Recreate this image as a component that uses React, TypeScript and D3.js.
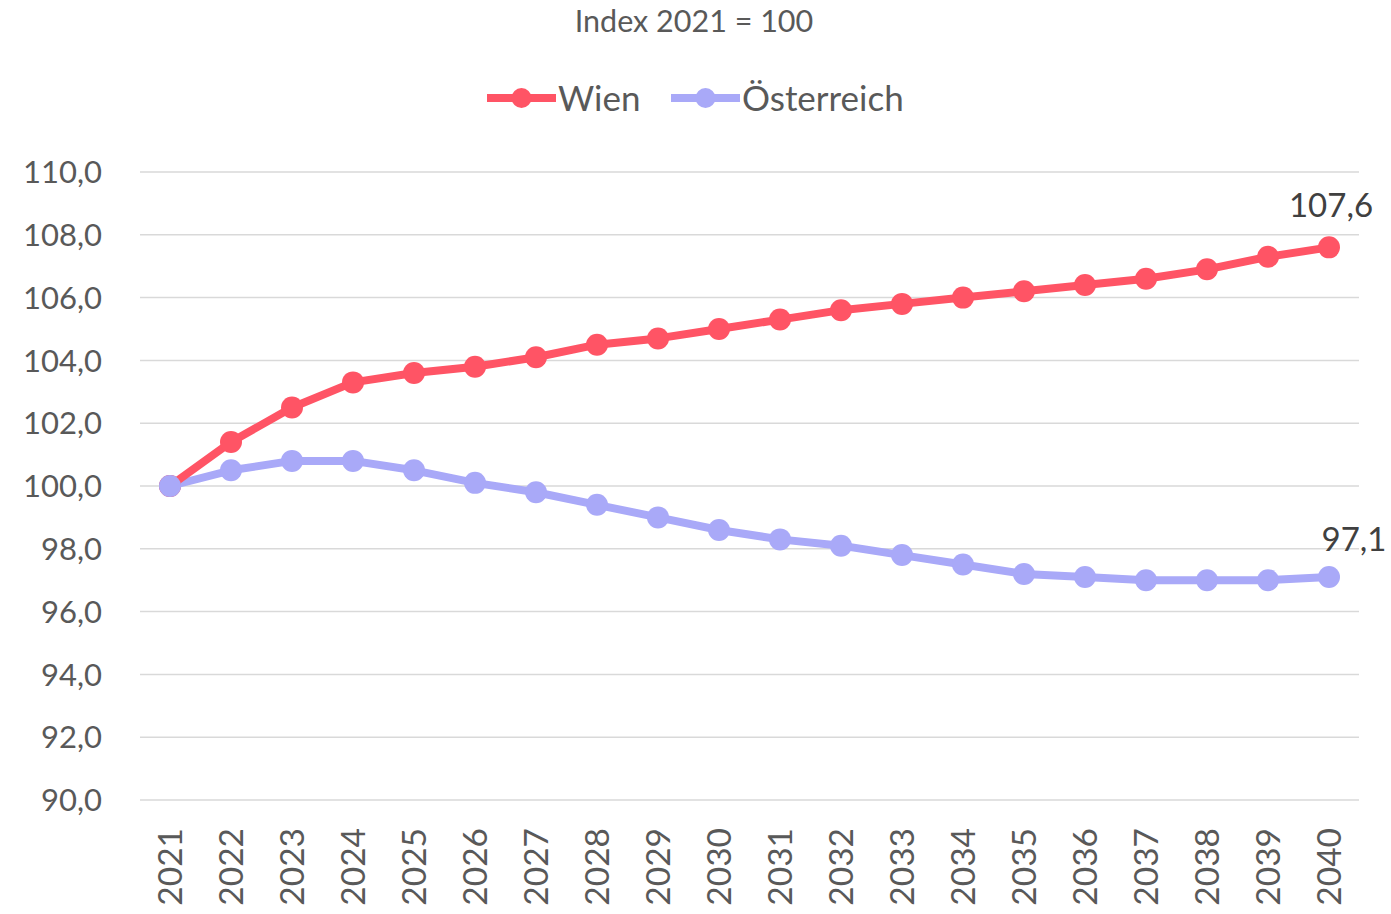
import { useEffect, useRef } from 'react';
import * as d3 from 'd3';

const years = ['2021', '2022', '2023', '2024', '2025', '2026', '2027', '2028', '2029', '2030',
  '2031', '2032', '2033', '2034', '2035', '2036', '2037', '2038', '2039', '2040'];

const wien = [100.0, 101.4, 102.5, 103.3, 103.6, 103.8, 104.1, 104.5, 104.7, 105.0,
  105.3, 105.6, 105.8, 106.0, 106.2, 106.4, 106.6, 106.9, 107.3, 107.6];

const oesterreich = [100.0, 100.5, 100.8, 100.8, 100.5, 100.1, 99.8, 99.4, 99.0, 98.6,
  98.3, 98.1, 97.8, 97.5, 97.2, 97.1, 97.0, 97.0, 97.0, 97.1];

const yTicks = [90, 92, 94, 96, 98, 100, 102, 104, 106, 108, 110];

const seriesNames = ['Wien', 'Österreich'];
const seriesColors = ['#ff5465', '#a9a9f8'];

const FONT = 'Lato, "Open Sans", sans-serif';
const TEXT = '#595959';

const App = (): JSX.Element => {
  const svgRef = useRef<SVGSVGElement>(null);

  useEffect(() => {
    const width = 1391;
    const height = 914;
    const svg = d3.select(svgRef.current)
      .attr('width', width)
      .attr('height', height);
    svg.selectAll('*').remove();

    const x = d3.scalePoint<string>().domain(years).range([170, 1329]);
    const y = d3.scaleLinear().domain([90, 110]).range([800, 172]);
    const fmt = (v: number) => v.toFixed(1).replace('.', ',');

    // gridlines
    svg.append('g')
      .selectAll('line')
      .data(yTicks)
      .enter()
      .append('line')
      .attr('x1', 140)
      .attr('x2', 1359)
      .attr('y1', d => y(d))
      .attr('y2', d => y(d))
      .attr('stroke', '#d9d9d9')
      .attr('stroke-width', 1.5);

    // y tick labels
    svg.append('g')
      .selectAll('text')
      .data(yTicks)
      .enter()
      .append('text')
      .attr('x', 102)
      .attr('y', d => y(d))
      .attr('dy', '0.36em')
      .attr('text-anchor', 'end')
      .attr('font-family', FONT)
      .attr('font-size', 31)
      .attr('fill', TEXT)
      .text(d => fmt(d));

    // x tick labels, rotated
    svg.append('g')
      .selectAll('text')
      .data(years)
      .enter()
      .append('text')
      .attr('transform', d => `translate(${x(d)! + 12},828) rotate(-90)`)
      .attr('text-anchor', 'end')
      .attr('font-family', FONT)
      .attr('font-size', 33.5)
      .attr('fill', TEXT)
      .text(d => d);

    const series = [wien, oesterreich];
    const line = d3.line<number>()
      .x((_d, i) => x(years[i])!)
      .y(d => y(d));

    // Österreich first, Wien above
    [1, 0].forEach(si => {
      const g = svg.append('g');
      g.append('path')
        .attr('d', line(series[si]))
        .attr('fill', 'none')
        .attr('stroke', seriesColors[si])
        .attr('stroke-width', 8)
        .attr('stroke-linejoin', 'round');
      g.selectAll('circle')
        .data(series[si])
        .enter()
        .append('circle')
        .attr('cx', (_d, i) => x(years[i])!)
        .attr('cy', d => y(d))
        .attr('r', 11)
        .attr('fill', seriesColors[si]);
    });
    // start marker of Österreich sits on top in the reference
    svg.append('circle')
      .attr('cx', x(years[0])!)
      .attr('cy', y(oesterreich[0]))
      .attr('r', 11)
      .attr('fill', seriesColors[1]);

    // end labels
    const last = years.length - 1;
    svg.append('text')
      .attr('x', x(years[last])! + 2)
      .attr('y', y(wien[last]) - 30)
      .attr('text-anchor', 'middle')
      .attr('font-family', FONT)
      .attr('font-size', 33)
      .attr('fill', '#404040')
      .text(fmt(wien[last]));
    svg.append('text')
      .attr('x', x(years[last])! + 25)
      .attr('y', y(oesterreich[last]) - 26)
      .attr('text-anchor', 'middle')
      .attr('font-family', FONT)
      .attr('font-size', 33)
      .attr('fill', '#404040')
      .text(fmt(oesterreich[last]));

    // title
    svg.append('text')
      .attr('x', 694)
      .attr('y', 32)
      .attr('text-anchor', 'middle')
      .attr('font-family', FONT)
      .attr('font-size', 30.5)
      .attr('fill', TEXT)
      .text('Index 2021 = 100');

    // legend
    const legendX = [487, 671];
    seriesNames.forEach((name, i) => {
      const lg = svg.append('g').attr('transform', `translate(${legendX[i]},98)`);
      lg.append('line')
        .attr('x1', 0)
        .attr('x2', 69)
        .attr('stroke', seriesColors[i])
        .attr('stroke-width', 8);
      lg.append('circle')
        .attr('cx', 34.5)
        .attr('r', 10)
        .attr('fill', seriesColors[i]);
      lg.append('text')
        .attr('x', 71)
        .attr('dy', '0.36em')
        .attr('font-family', FONT)
        .attr('font-size', 35)
        .attr('fill', TEXT)
        .text(name);
    });
  }, []);

  return (
    <div style={{ position: 'fixed', left: 0, top: 0, background: '#fff' }}>
      <svg ref={svgRef}></svg>
    </div>
  );
};

export default App;
